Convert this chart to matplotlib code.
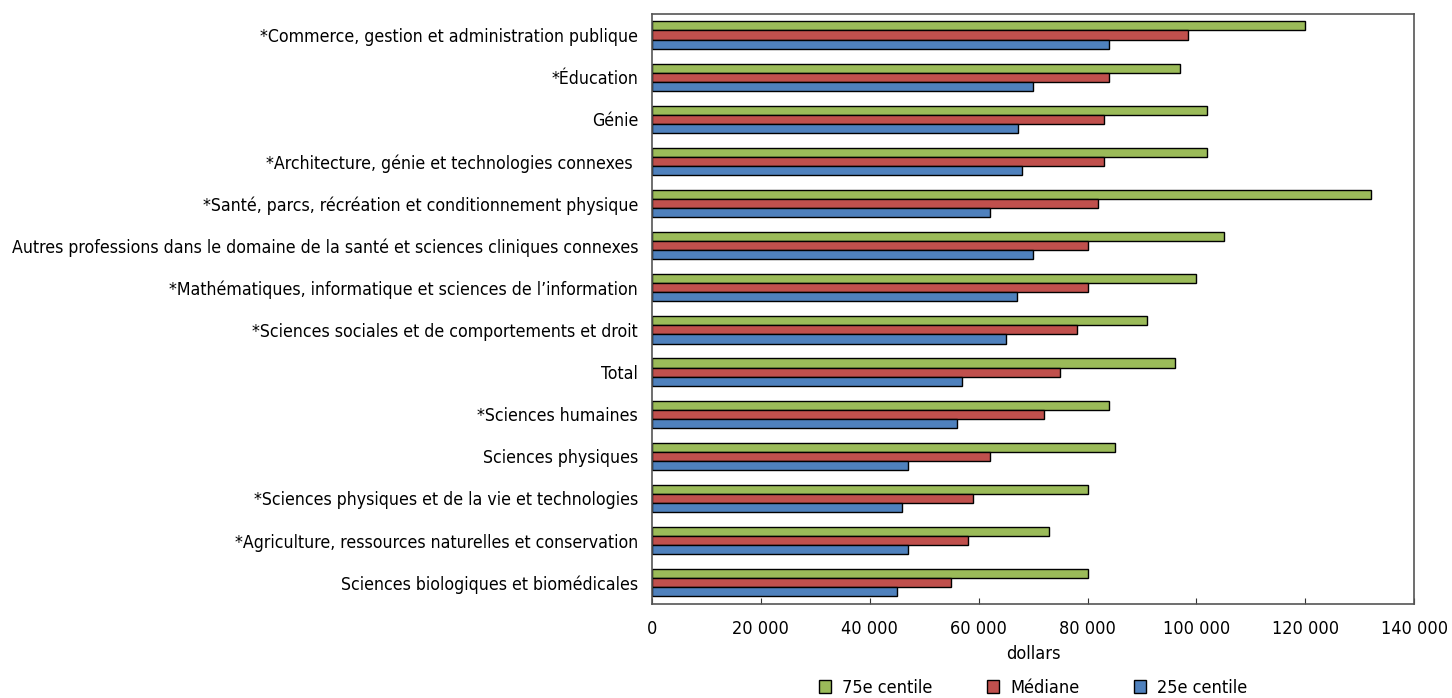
import numpy as np
import matplotlib.pyplot as plt
from matplotlib.ticker import FuncFormatter

plt.rcParams['font.family'] = ['Liberation Sans Narrow', 'DejaVu Sans']
plt.rcParams['font.stretch'] = 'condensed'

# Data (dollars), categories listed top to bottom
categories = [
    "*Commerce, gestion et administration publique",
    "*Éducation",
    "Génie",
    "*Architecture, génie et technologies connexes ",
    "*Santé, parcs, récréation et conditionnement physique",
    "Autres professions dans le domaine de la santé et sciences cliniques connexes",
    "*Mathématiques, informatique et sciences de l’information",
    "*Sciences sociales et de comportements et droit",
    "Total",
    "*Sciences humaines",
    "Sciences physiques",
    "*Sciences physiques et de la vie et technologies",
    "*Agriculture, ressources naturelles et conservation",
    "Sciences biologiques et biomédicales",
]
p75 = [120000, 97000, 102000, 102000, 132000, 105000, 100000, 91000, 96000, 84000, 85000, 80000, 73000, 80000]
median = [98500, 84000, 83000, 83000, 82000, 80000, 80000, 78000, 75000, 72000, 62000, 59000, 58000, 55000]
p25 = [84000, 70000, 67300, 68000, 62000, 70000, 67000, 65000, 57000, 56000, 47000, 46000, 47000, 45000]
series_names = ["75e centile", "Médiane", "25e centile"]
colors = ["#9BBB59", "#C0504D", "#4F81BD"]

fig = plt.figure(figsize=(14.52, 6.98), dpi=100)
ax = fig.add_axes([0.449, 0.135, 0.525, 0.845])

y = np.arange(len(categories))
h = 0.215
for i, (vals, name, c) in enumerate(zip([p75, median, p25], series_names, colors)):
    ax.barh(y + (i - 1) * h, vals, height=h, color=c, edgecolor='black',
            linewidth=1, label=name)

ax.set_ylim(len(categories) - 0.5, -0.5)
ax.set_xlim(0, 140000)
ax.set_xticks(np.arange(0, 140001, 20000))
ax.xaxis.set_major_formatter(FuncFormatter(lambda v, p: f"{int(v):,}".replace(",", " ")))
ax.set_yticks(y)
ax.set_yticklabels(categories)
ax.tick_params(axis='y', length=0, pad=10, labelsize=12.7)
ax.tick_params(axis='x', direction='in', length=4, pad=12, labelsize=13, color='#333333')
for s in ax.spines.values():
    s.set_color('#555555')
    s.set_linewidth(1.2)

ax.set_xlabel("dollars", fontsize=13, labelpad=5)
ax.legend(loc='center', bbox_to_anchor=(0.5, -0.142), ncol=3, frameon=False,
          fontsize=13, handlelength=0.7, handleheight=0.7, columnspacing=3.0,
          handletextpad=0.6)

fig.savefig("out.png", dpi=100)
